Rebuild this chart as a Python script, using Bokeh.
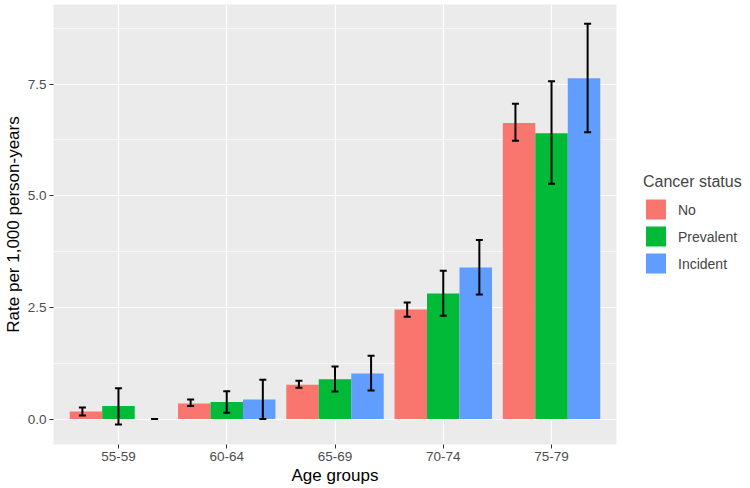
from bokeh.plotting import figure
from bokeh.models import (ColumnDataSource, Range1d, FixedTicker, NumeralTickFormatter,
                          Whisker, TeeHead, Legend, LegendItem)
from bokeh.embed import file_html
from bokeh.resources import INLINE

# ---- data ----
age_groups = ["55-59", "60-64", "65-69", "70-74", "75-79"]
statuses = ["No", "Prevalent", "Incident"]
rate_no = [0.17, 0.35, 0.77, 2.45, 6.63]
lower_no = [0.08, 0.29, 0.70, 2.29, 6.23]
upper_no = [0.26, 0.44, 0.855, 2.61, 7.06]
rate_prev = [0.29, 0.38, 0.89, 2.81, 6.40]
lower_prev = [-0.12, 0.14, 0.615, 2.31, 5.27]
upper_prev = [0.69, 0.62, 1.175, 3.32, 7.56]
rate_inc = [0.0, 0.44, 1.02, 3.39, 7.63]
lower_inc = [0.0, 0.0, 0.64, 2.79, 6.42]
upper_inc = [0.0, 0.88, 1.415, 4.01, 8.85]
y_ticks = [0, 2.5, 5, 7.5]
y_minor = [1.25, 3.75, 6.25, 8.75]

colors = ["#F8766D", "#00BA38", "#619CFF"]
series = [(rate_no, lower_no, upper_no), (rate_prev, lower_prev, upper_prev),
          (rate_inc, lower_inc, upper_inc)]

FONT = "Liberation Sans"
bar_w = 0.3
err_step = 1 / 3

p = figure(frame_width=563, frame_height=440, output_backend="svg", toolbar_location=None,
           x_range=Range1d(0.4, len(age_groups) + 0.6), y_range=Range1d(-0.57, 9.28),
           min_border_top=4, min_border_left=0, min_border_bottom=0, min_border_right=0)
p.background_fill_color = "#EBEBEB"
p.border_fill_color = "white"
p.outline_line_color = None

positions = list(range(1, len(age_groups) + 1))
items = []
for k, (rate, lo, up) in enumerate(series):
    off = k - 1
    src = ColumnDataSource(dict(
        x=[x + off * bar_w for x in positions],
        xe=[x + off * err_step for x in positions],
        top=rate, lower=lo, upper=up))
    r = p.vbar(x="x", top="top", bottom=0, width=bar_w, source=src,
               fill_color=colors[k], line_color=None)
    items.append(LegendItem(label=statuses[k], renderers=[r]))
    w = Whisker(source=src, base="xe", lower="lower", upper="upper", dimension="height",
                line_color="black", line_width=2, level="annotation",
                upper_head=TeeHead(size=7, line_width=2, line_color="black"),
                lower_head=TeeHead(size=7, line_width=2, line_color="black"))
    p.add_layout(w)

# axes
p.xaxis.ticker = FixedTicker(ticks=positions)
p.xaxis.major_label_overrides = {x: g for x, g in zip(positions, age_groups)}
p.yaxis.ticker = FixedTicker(ticks=y_ticks, minor_ticks=y_minor)
p.yaxis.formatter = NumeralTickFormatter(format="0.0")
p.xaxis.axis_label = "Age groups"
p.yaxis.axis_label = "Rate per 1,000 person-years"
for ax in (p.xaxis[0], p.yaxis[0]):
    ax.axis_line_color = None
    ax.major_tick_line_color = "#333333"
    ax.major_tick_in = 0
    ax.major_tick_out = 4
    ax.minor_tick_line_color = None
    ax.major_label_text_font = FONT
    ax.major_label_text_font_size = "13.5px"
    ax.major_label_text_color = "#4D4D4D"
    ax.major_label_standoff = 3
    ax.axis_label_text_font = FONT
    ax.axis_label_text_font_size = "17px"
    ax.axis_label_text_font_style = "normal"
    ax.axis_label_text_color = "black"
    ax.axis_label_standoff = 2

p.xgrid.ticker = FixedTicker(ticks=positions)
p.xgrid.grid_line_color = "white"
p.xgrid.grid_line_width = 1.2
p.ygrid.grid_line_color = "white"
p.ygrid.grid_line_width = 1.2
p.ygrid.minor_grid_line_color = "white"
p.ygrid.minor_grid_line_width = 0.6

legend = Legend(items=items, title="Cancer status", location="center_left",
                title_text_font=FONT, title_text_font_size="16px", title_text_font_style="normal",
                label_text_font=FONT, label_text_font_size="14px",
                glyph_width=25, glyph_height=25, spacing=2, label_standoff=10,
                padding=0, margin=27, border_line_color=None, background_fill_alpha=0,
                title_standoff=6)
p.add_layout(legend, "right")

open("out.html", "w").write(file_html(p, INLINE))
